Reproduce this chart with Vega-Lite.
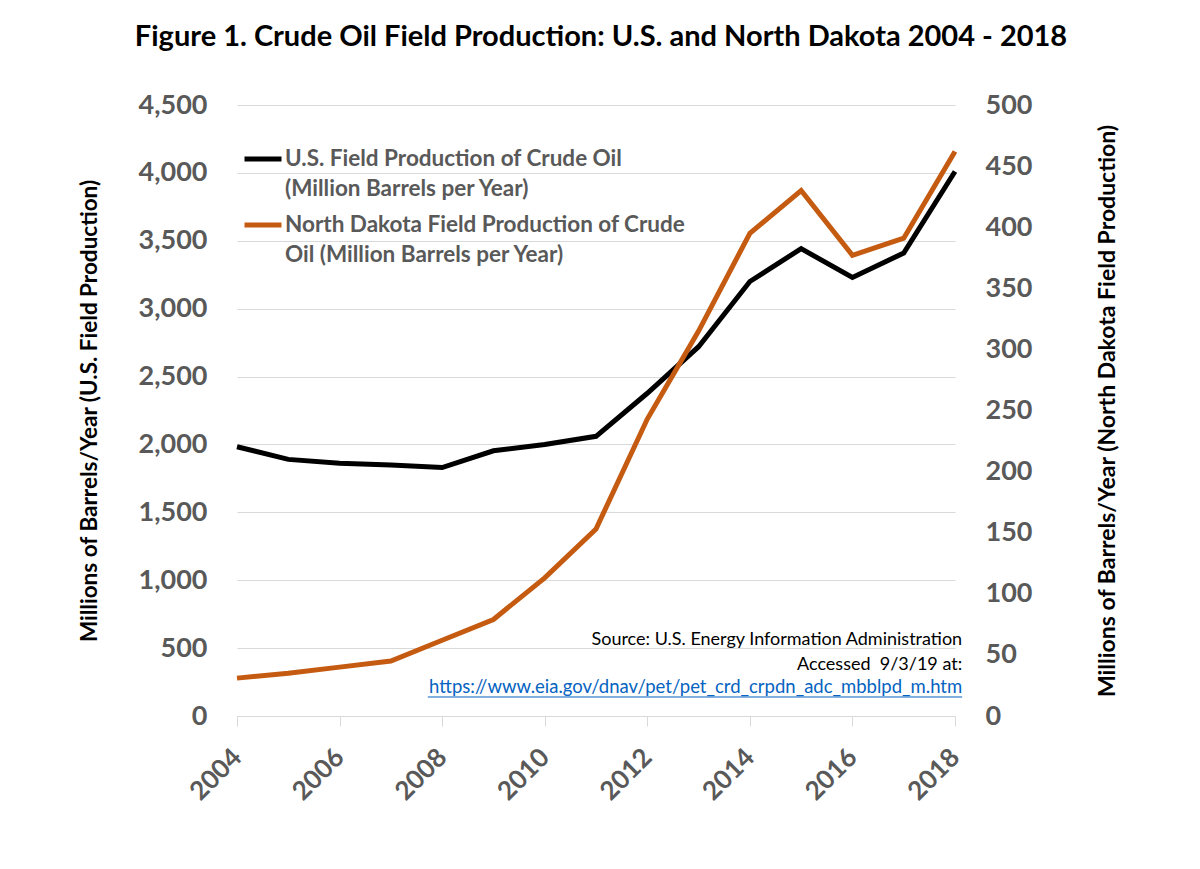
{
  "$schema": "https://vega.github.io/schema/vega-lite/v6.json",
  "width": 718,
  "height": 611,
  "autosize": {"type": "none"},
  "padding": {"left": 237, "top": 105, "right": 245, "bottom": 153},
  "background": "white",
  "title": {
    "text": "Figure 1. Crude Oil Field Production: U.S. and North Dakota 2004 - 2018",
    "font": "Lato", "fontSize": 29, "fontWeight": "bold", "color": "black",
    "anchor": "middle", "offset": 39, "dx": 5
  },
  "config": {"view": {"stroke": null}, "font": "Lato"},
  "data": {
    "values": [
      {"year": 2004, "series": "US", "value": 1983},
      {"year": 2005, "series": "US", "value": 1890},
      {"year": 2006, "series": "US", "value": 1862},
      {"year": 2007, "series": "US", "value": 1848},
      {"year": 2008, "series": "US", "value": 1830},
      {"year": 2009, "series": "US", "value": 1953},
      {"year": 2010, "series": "US", "value": 1999},
      {"year": 2011, "series": "US", "value": 2060},
      {"year": 2012, "series": "US", "value": 2377},
      {"year": 2013, "series": "US", "value": 2720},
      {"year": 2014, "series": "US", "value": 3200},
      {"year": 2015, "series": "US", "value": 3442},
      {"year": 2016, "series": "US", "value": 3230},
      {"year": 2017, "series": "US", "value": 3410},
      {"year": 2018, "series": "US", "value": 4010},
      {"year": 2004, "series": "ND", "value": 31},
      {"year": 2005, "series": "ND", "value": 35},
      {"year": 2006, "series": "ND", "value": 40},
      {"year": 2007, "series": "ND", "value": 45},
      {"year": 2008, "series": "ND", "value": 62},
      {"year": 2009, "series": "ND", "value": 79},
      {"year": 2010, "series": "ND", "value": 113},
      {"year": 2011, "series": "ND", "value": 153},
      {"year": 2012, "series": "ND", "value": 243},
      {"year": 2013, "series": "ND", "value": 315},
      {"year": 2014, "series": "ND", "value": 395},
      {"year": 2015, "series": "ND", "value": 430},
      {"year": 2016, "series": "ND", "value": 377},
      {"year": 2017, "series": "ND", "value": 391},
      {"year": 2018, "series": "ND", "value": 462}
    ]
  },
  "layer": [
    {
      "layer": [
        {
          "transform": [{"filter": "datum.series == 'US'"}],
          "mark": {"type": "line", "strokeWidth": 5},
          "encoding": {
            "x": {
              "field": "year", "type": "quantitative",
              "scale": {"domain": [2004, 2018], "nice": false, "zero": false},
              "axis": {
                "values": [2004, 2006, 2008, 2010, 2012, 2014, 2016, 2018],
                "format": "d", "labelAngle": -45, "labelAlign": "right", "labelBaseline": "middle",
                "title": null, "grid": false,
                "domainColor": "#d9d9d9", "domainWidth": 1,
                "tickColor": "#d9d9d9", "tickSize": 10, "tickWidth": 1,
                "labelFont": "Lato", "labelFontSize": 26, "labelFontWeight": "bold",
                "labelColor": "#595959", "labelPadding": 27
              }
            },
            "y": {
              "field": "value", "type": "quantitative",
              "scale": {"domain": [0, 4500], "nice": false},
              "axis": {
                "values": [0, 500, 1000, 1500, 2000, 2500, 3000, 3500, 4000, 4500],
                "labelExpr": "format(datum.value, ',')",
                "title": "Millions of Barrels/Year (U.S. Field Production)",
                "titleFont": "Lato", "titleFontSize": 22.5, "titleFontWeight": "bold",
                "titleColor": "black", "titlePadding": 37,
                "labelFont": "Lato", "labelFontSize": 27, "labelFontWeight": "bold",
                "labelColor": "#595959", "labelPadding": 30,
                "domain": false, "ticks": false, "tickSize": 0,
                "grid": true, "gridColor": "#d9d9d9", "gridWidth": 1
              }
            },
            "color": {
              "field": "series", "type": "nominal",
              "scale": {"domain": ["US", "ND"], "range": ["#000000", "#C55A11"]},
              "legend": {
                "orient": "none", "legendX": 5, "legendY": 33, "title": null,
                "symbolType": "stroke", "symbolSize": 1369, "symbolStrokeWidth": 5,
                "labelFont": "Lato", "labelFontSize": 22.5, "labelFontWeight": "bold",
                "labelColor": "#595959", "labelLimit": 0, "labelOffset": 1, "rowPadding": 3,
                "labelExpr": "datum.value == 'US' ? ['U.S. Field Production of Crude Oil', '(Million Barrels per Year)'] : ['North Dakota Field Production of Crude', 'Oil (Million Barrels per Year)']",
                "encode": {"labels": {"update": {"lineHeight": {"value": 30}}}}
              }
            }
          }
        },
        {
          "data": {"values": [{"note": "source"}]},
          "mark": {"type": "text", "align": "right", "baseline": "alphabetic", "font": "Lato", "fontSize": 18, "color": "black", "lineHeight": 25},
          "encoding": {
            "x": {"datum": 2018.14, "type": "quantitative"},
            "y": {"datum": 522, "type": "quantitative"},
            "text": {"value": ["Source: U.S. Energy Information Administration", "Accessed\u00a0\u00a09/3/19 at:"]}
          }
        },
        {
          "data": {"values": [{"note": "url"}]},
          "mark": {"type": "text", "align": "right", "baseline": "alphabetic", "font": "Lato", "fontSize": 18.5, "color": "#0563C1"},
          "encoding": {
            "x": {"datum": 2018.14, "type": "quantitative"},
            "y": {"datum": 166, "type": "quantitative"},
            "text": {"value": "https://www.eia.gov/dnav/pet/pet_crd_crpdn_adc_mbblpd_m.htm"}
          }
        },
        {
          "data": {"values": [{"note": "underline"}]},
          "mark": {"type": "rule", "color": "#0563C1", "strokeWidth": 1},
          "encoding": {
            "x": {"datum": 2007.72, "type": "quantitative"},
            "x2": {"datum": 2018.14},
            "y": {"datum": 140, "type": "quantitative"}
          }
        }
      ]
    },
    {
      "transform": [{"filter": "datum.series == 'ND'"}],
      "mark": {"type": "line", "strokeWidth": 5},
      "encoding": {
        "x": {"field": "year", "type": "quantitative"},
        "y": {
          "field": "value", "type": "quantitative",
          "scale": {"domain": [0, 500], "nice": false},
          "axis": {
            "orient": "right",
            "values": [0, 50, 100, 150, 200, 250, 300, 350, 400, 450, 500],
            "title": "Millions of Barrels/Year (North Dakota Field Production)",
            "titleAngle": -90,
            "titleFont": "Lato", "titleFontSize": 23, "titleFontWeight": "bold",
            "titleColor": "black", "titlePadding": 88,
            "labelFont": "Lato", "labelFontSize": 27, "labelFontWeight": "bold",
            "labelColor": "#595959", "labelPadding": 30,
            "domain": false, "ticks": false, "tickSize": 0, "grid": false
          }
        },
        "color": {"field": "series", "type": "nominal"}
      }
    }
  ],
  "resolve": {"scale": {"y": "independent"}}
}
